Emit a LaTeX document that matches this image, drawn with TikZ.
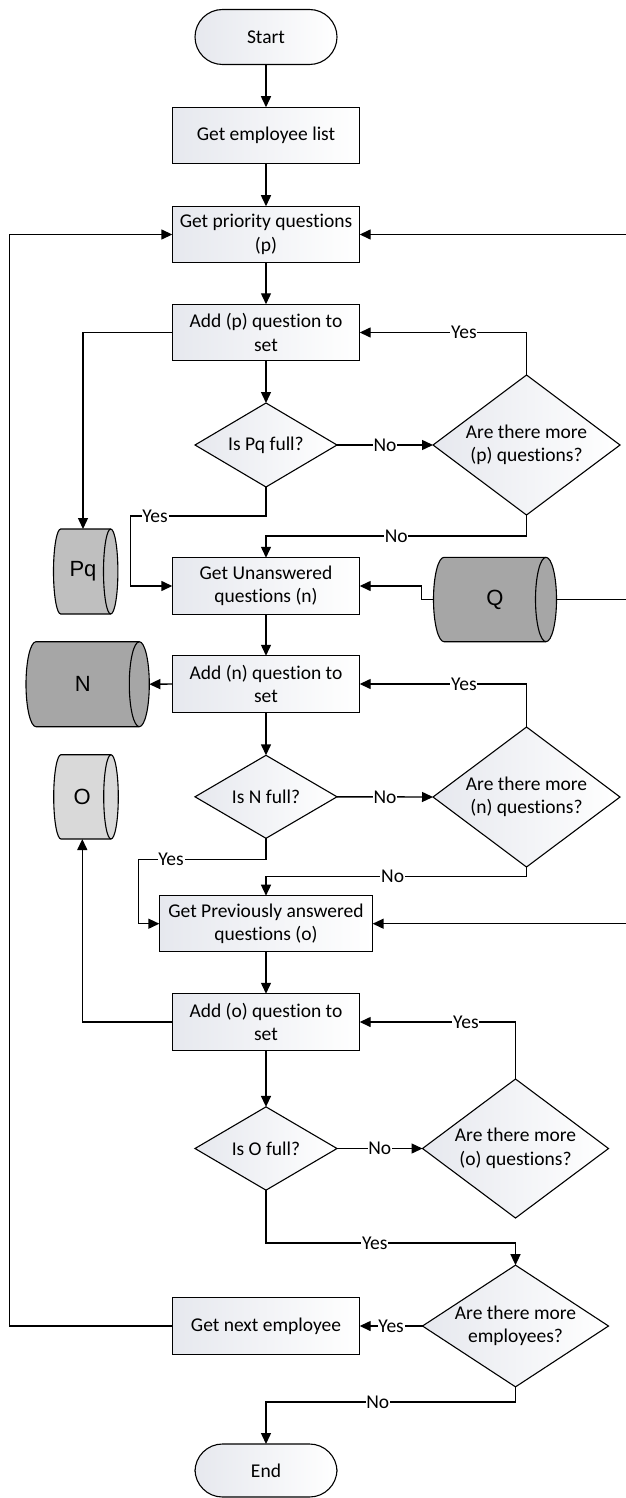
\documentclass[tikz,border=0pt]{standalone}
\usepackage{fontspec}
\setmainfont{Carlito}[RawFeature={-liga;-clig;-dlig;-calt}]
\newfontfamily\drumfont{Liberation Sans}
\usetikzlibrary{shapes.geometric,arrows.meta,calc}

\definecolor{shadegray}{RGB}{230,232,238}
\definecolor{drumlight}{RGB}{217,217,217}
\definecolor{drummid}{RGB}{191,191,191}
\definecolor{drumdark}{RGB}{166,166,166}

% horizontal storage drum: left x, right x, top y, bottom y, bulge, fill
\newcommand\drum[6]{%
  \pgfmathsetmacro\dry{(#4-#3)/2}%
  \filldraw[fill=#6, line width=1.1pt]
    (#1,-#3) -- (#2,-#3)
    arc[start angle=90, end angle=-90, x radius=#5, y radius=\dry]
    -- (#1,-#4)
    arc[start angle=270, end angle=90, x radius=#5, y radius=\dry] -- cycle;
  \draw[line width=1.1pt] (#2,-#3)
    arc[start angle=90, end angle=270, x radius=#5, y radius=\dry];
}

\tikzset{
  base/.style={draw, line width=1.1pt, inner sep=0pt, outer sep=0pt,
    align=center, left color=shadegray, right color=white,
    font=\fontsize{19.5}{23.5}\selectfont},
  procbox/.style={base, rectangle, minimum width=187.4, minimum height=56.5},
  termbox/.style={base, rectangle, rounded corners=27.5pt,
    minimum width=142, minimum height=55},
  decide/.style={base, diamond},
  drumtext/.style={inner sep=0pt, outer sep=0pt,
    font=\drumfont\fontsize{22}{24}\selectfont},
  caption/.style={align=center, font=\fontsize{19.5}{23.5}\selectfont},
  flow/.style={line width=1.4pt, -{Triangle[length=11pt,width=10pt]}},
  plain/.style={line width=1.4pt},
  lbl/.style={fill=white, inner sep=0.8pt, text=black,
    font=\fontsize{19.5}{22}\selectfont}
}

\begin{document}
\begin{tikzpicture}[x=1pt,y=1pt]
\useasboundingbox (0,0) rectangle (625,-1498);

% storage drums
\drum{60.7}{110.7}{529}{614}{7.2}{drummid}
\drum{36}{139.3}{641.7}{726.7}{10}{drumdark}
\drum{444}{546}{557.3}{641.7}{10.5}{drumdark}
\drum{61}{111}{754.7}{839}{7.3}{drumlight}

\node[drumtext, minimum height=85] (pq) at (83,-571.5) {Pq};
\node[drumtext, minimum height=85, minimum width=133.2] (nn) at (82.7,-684.2) {N};
\node[drumtext, minimum height=84.4, minimum width=123.4] (qq) at (495,-599.5) {Q};
\node[drumtext, minimum height=84.3] (oo) at (82.3,-796.9) {O};

% main column
\node[termbox] (start) at (266,-37) {Start};
\node[procbox] (emp)  at (266,-135.5) {Get employee list};
\node[procbox] (prio) at (266,-234.5) {Get priority questions\\(p)};
\node[procbox] (addp) at (266,-332.5) {Add (p) question to\\set};
\node[decide, minimum width=142, minimum height=84] (fp) at (266,-445) {};
\node[decide, minimum width=187, minimum height=140] (dp) at (526.5,-445) {};
\node[procbox] (getn) at (266,-586) {Get Unanswered\\questions (n)};
\node[procbox] (addn) at (266,-684) {Add (n) question to\\set};
\node[decide, minimum width=142, minimum height=83] (fn) at (266,-796.8) {};
\node[decide, minimum width=187, minimum height=140] (dn) at (526.5,-797) {};
\node[procbox, minimum width=213.3, minimum height=56] (geto) at (266,-923.7) {Get Previously answered\\questions (o)};
\node[procbox] (addo) at (266,-1022) {Add (o) question to\\set};
\node[decide, minimum width=142, minimum height=83.3] (fo) at (266,-1148.5) {};
\node[decide, minimum width=186, minimum height=139] (do) at (515.5,-1148.5) {};
\node[decide, minimum width=186, minimum height=121.7] (de) at (515.5,-1326) {};
\node[procbox] (next) at (266,-1326) {Get next employee};
\node[termbox, minimum height=53] (end) at (266,-1470.5) {End};

% diamond captions
\node[caption] (tfp) at (fp) {Is Pq full?};
\node[caption] (tdp) at (dp) {Are there more\\(p) questions?};
\node[caption] (tfn) at (fn) {Is N full?};
\node[caption] (tdn) at (dn) {Are there more\\(n) questions?};
\node[caption] (tfo) at (fo) {Is O full?};
\node[caption] (tdo) at (do) {Are there more\\(o) questions?};
\node[caption] (tde) at (de) {Are there more\\employees?};

% off-page ends on the right
\coordinate (rp) at (630,-234.5);
\coordinate (rq) at (630,-599.5);
\coordinate (ro) at (630,-923.7);

% priority questions
\draw[flow] (start) -- (emp);
\draw[flow] (emp) -- (prio);
\draw[flow] (prio) -- (addp);
\draw[flow] (addp.west) -| (pq.north);
\draw[flow] (addp) -- (fp);
\draw[flow] (fp.east) -- node[lbl]{No} (dp.west);
\draw[flow] (dp.north) |- node[lbl, pos=0.6875]{Yes} (addp.east);
\draw[flow] (fp.south) |- node[lbl, pos=0.91]{Yes} (130.7,-516) -- (130.7,-586) -- (getn.west);
\draw[flow] (dp.south) -- ++(0,-21) -| node[lbl, pos=0.25]{No} (getn.north);
\draw[flow] (rp) -- (prio.east);

% unanswered questions
\draw[flow] (qq.west) -- ++(-12,0) |- (getn.east);
\draw[plain] (qq.east) -- (rq);
\draw[flow] (getn) -- (addn);
\draw[flow] (addn.west) -- (nn.east);
\draw[flow] (addn) -- (fn);
\draw[flow] (fn.east) -- node[lbl]{No} (dn.west);
\draw[flow] (dn.north) |- node[lbl, pos=0.6875]{Yes} (addn.east);
\draw[flow] (fn.south) |- node[lbl, pos=0.873]{Yes} (138.7,-859.3) -- (138.7,-923.7) -- (geto.west);
\draw[flow] (dn.south) -- ++(0,-9.3) -| node[lbl, pos=0.257]{No} (geto.north);

% previously answered questions
\draw[flow] (ro) -- (geto.east);
\draw[flow] (geto) -- (addo);
\draw[flow] (addo.west) -| (oo.south);
\draw[flow] (addo) -- (fo);
\draw[flow] (fo.east) -- node[lbl]{No} (do.west);
\draw[flow] (do.north) |- node[lbl, pos=0.659]{Yes} (addo.east);
\draw[flow] (fo.south) -- ++(0,-52.7) -| node[lbl, pos=0.218]{Yes} (de.north);

% next employee
\draw[flow] (de.west) -- node[lbl, pos=0.5]{Yes} (next.east);
\draw[flow] (next.west) -- ++(-162.6,0) |- (prio.west);
\draw[flow] (de.south) -- ++(0,-15) -| node[lbl, pos=0.276]{No} (end.north);
\end{tikzpicture}
\end{document}
